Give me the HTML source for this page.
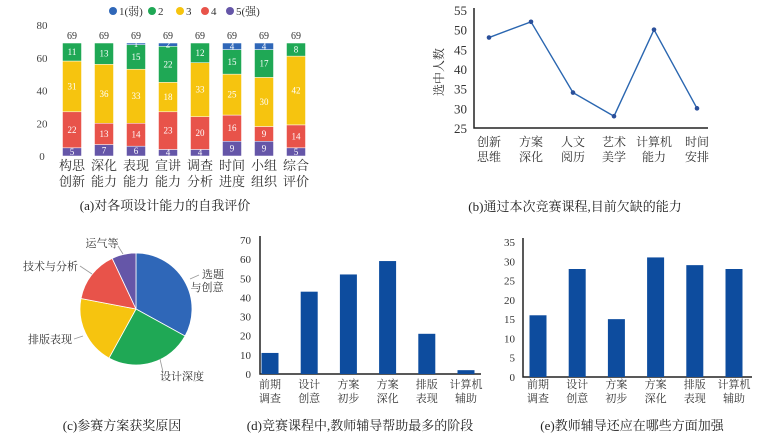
<!DOCTYPE html>
<html><head><meta charset="utf-8">
<style>
html,body{margin:0;padding:0;background:#fff;}
svg{display:block;font-family:"Liberation Serif","Noto Serif CJK SC",serif;}
</style></head>
<body>
<svg id="s" width="771" height="445" viewBox="0 0 771 445" xmlns="http://www.w3.org/2000/svg"></svg>
<script>
// ---- Chart (a) data ----
const aCats = [["构思","创新"],["深化","能力"],["表现","能力"],["宣讲","能力"],["调查","分析"],["时间","进度"],["小组","组织"],["综合","评价"]];
const aS5 = [5,7,6,4,4,9,9,5];
const aS4 = [22,13,14,23,20,16,9,14];
const aS3 = [31,36,33,18,33,25,30,42];
const aS2 = [11,13,15,22,12,15,17,8];
const aS1 = [0,0,1,2,0,4,4,0];
const aTicks = [0,20,40,60,80];
const aLegend = ["1(弱)","2","3","4","5(强)"];
// ---- Chart (b) data ----
const bCats = [["创新","思维"],["方案","深化"],["人文","阅历"],["艺术","美学"],["计算机","能力"],["时间","安排"]];
const bVals = [48,52,34,28,50,30];
const bTicks = [25,30,35,40,45,50,55];
// ---- Chart (c) data ----
const cLabels = ["选题与创意","设计深度","排版表现","技术与分析","运气等"];
const cVals = [33,25,20,15,7];
// ---- Chart (d) data ----
const dCats = [["前期","调查"],["设计","创意"],["方案","初步"],["方案","深化"],["排版","表现"],["计算机","辅助"]];
const dVals = [11,43,52,59,21,2];
const dTicks = [0,10,20,30,40,50,60,70];
// ---- Chart (e) data ----
const eCats = [["前期","调查"],["设计","创意"],["方案","初步"],["方案","深化"],["排版","表现"],["计算机","辅助"]];
const eVals = [16,28,15,31,29,28];
const eTicks = [0,5,10,15,20,25,30,35];

const svg = document.getElementById('s');
const NS = "http://www.w3.org/2000/svg";
function mk(tag, attrs, parent){const e=document.createElementNS(NS,tag);for(const k in attrs)e.setAttribute(k,attrs[k]);(parent||svg).appendChild(e);return e;}
function txt(x,y,s,size,anchor,fill,parent){const t=mk('text',{x:x,y:y,'font-size':size,'text-anchor':anchor||'middle',fill:fill||'#333'},parent);t.textContent=s;return t;}

const COLORS = ["#2f67b8","#1fa855","#f6c40f","#e8534a","#6556a8"];

// ===== Chart (a) =====
(function(){
  const g = mk('g',{});
  
  
  const y0=156, y1=25, vmax=80;
  const ys = v => y0 - v/vmax*(y0-y1);
  const left=56, band=32, bw=19;
  const xc = i => left + band*i + band/2;
  aTicks.forEach(t=>{const e=txt(42,ys(t)+4,String(t),11,'middle','#444',g);
    });
  const lx=[113,152,180,205,230];
  aLegend.forEach((l,i)=>{
    const lg=mk('g',{},g);
    
    
    mk('circle',{cx:lx[i],cy:11,r:4,fill:COLORS[i]},lg);
    txt(lx[i]+6,15,l,11,'start','#333',lg);
  });
  const series=[aS5,aS4,aS3,aS2,aS1];
  const sc=[COLORS[4],COLORS[3],COLORS[2],COLORS[1],COLORS[0]];
  aCats.forEach((c,i)=>{
    let acc=0;
    series.forEach((s,k)=>{
      const v=s[i]; if(v<=0) return;
      const r=mk('rect',{x:xc(i)-bw/2,y:ys(acc+v),width:bw,height:ys(acc)-ys(acc+v),fill:sc[k],stroke:'#fff','stroke-width':0.5},g);
      
      
      const t=txt(xc(i),ys(acc+v/2)+3,String(v),9,'middle','#fff',g);
      
      acc+=v;
    });
    const tl=txt(xc(i),ys(acc)-4,String(acc),10,'middle','#333',g);
    
    const c1=txt(xc(i),170,c[0],13,'middle','#333',g);
    
    const c2=txt(xc(i),186,c[1],13,'middle','#333',g);
    
  });
  const cap=txt(165,210,"(a)对各项设计能力的自我评价",13,'middle','#222',g);
  
})();

// ===== Chart (b) =====
(function(){
  const g=mk('g',{});
  
  
  const y0=128,y1=10,vmin=25,vmax=55;
  const ys=v=>y0-(v-vmin)/(vmax-vmin)*(y0-y1);
  const xs=[489,531,573,614,654,697];
  const ax=mk('path',{d:'M474 8 V128 H708',stroke:'#222','stroke-width':1.5,fill:'none'},g);
  
  bTicks.forEach(t=>{const e=txt(467,ys(t)+5,String(t),13,'end','#333',g);
    });
  const yt=txt(0,0,"选中人数",12,'middle','#333',g);
  yt.setAttribute('transform','translate(443,72) rotate(-90)');
  
  const pts=bVals.map((v,i)=>xs[i]+','+ys(v)).join(' ');
  const ln=mk('polyline',{points:pts,fill:'none',stroke:'#2a66b0','stroke-width':1.4},g);
  
  bVals.forEach((v,i)=>{
    const c=mk('circle',{cx:xs[i],cy:ys(v),r:2.3,fill:'#2a4f9a'},g);
    
  });
  bCats.forEach((c,i)=>{
    const a=txt(xs[i],146,c[0],12,'middle','#333',g);
    
    const b=txt(xs[i],161,c[1],12,'middle','#333',g);
    
  });
  const cap=txt(575,211,"(b)通过本次竞赛课程,目前欠缺的能力",13,'middle','#222',g);
  
})();

// ===== Chart (c) pie =====
(function(){
  const g=mk('g',{});
  
  
  const cx=136,cy=309,r=56;
  const total=cVals.reduce((a,b)=>a+b,0);
  const colors=[COLORS[0],COLORS[1],COLORS[2],COLORS[3],COLORS[4]];
  let a0=0;
  const pt=(a,rr)=>[cx+rr*Math.sin(a),cy-rr*Math.cos(a)];
  cVals.forEach((v,i)=>{
    const a1=a0+v/total*2*Math.PI;
    const p0=pt(a0,r),p1=pt(a1,r);
    const large=(a1-a0)>Math.PI?1:0;
    const p=mk('path',{d:`M${cx} ${cy} L${p0[0]} ${p0[1]} A${r} ${r} 0 ${large} 1 ${p1[0]} ${p1[1]} Z`,fill:colors[i],stroke:'#fff','stroke-width':0.8},g);
    
    
    a0=a1;
  });
  const lines=[[190,279,199,275],[160,359,163,372],[83,336,74,339],[92,274,80,266],[123,254,118,246]];
  lines.forEach(l=>{const e=mk('line',{x1:l[0],y1:l[1],x2:l[2],y2:l[3],stroke:'#999','stroke-width':0.8},g);
    });
  const lab=[[213,278,"选题",'middle'],[207,291,"与创意",'middle'],[160,380,"设计深度",'start'],[72,343,"排版表现",'end'],[78,270,"技术与分析",'end'],[102,247,"运气等",'middle']];
  lab.forEach(l=>{const e=txt(l[0],l[1],l[2],11,l[3],'#333',g);
    });
  const cap=txt(122,430,"(c)参赛方案获奖原因",13,'middle','#222',g);
  
})();

// ===== bar chart helper for (d) and (e) =====
function barChart(name,cats,vals,ticks,ax0,ax1,y0,y1,bandL,bandR,labX,capX,capText){
  const g=mk('g',{});
  
  
  const vmax=ticks[ticks.length-1];
  const ys=v=>y0-v/vmax*(y0-y1);
  const ax=mk('path',{d:`M${ax0} ${y1-4} V${y0} H${ax1}`,stroke:'#222','stroke-width':1.5,fill:'none'},g);
  
  ticks.forEach(t=>{const e=txt(labX,ys(t)+4,String(t),11,'end','#333',g);
    });
  const step=(bandR-bandL)/cats.length;
  vals.forEach((v,i)=>{
    const x=bandL+step*(i+0.5);
    const r=mk('rect',{x:x-8.5,y:ys(v),width:17,height:y0-ys(v),fill:'#0d4c9e'},g);
    
    
    const a=txt(x,388,cats[i][0],11,'middle','#333',g);
    
    const b=txt(x,402,cats[i][1],11,'middle','#333',g);
    
  });
  const cap=txt(capX,430,capText,13,'middle','#222',g);
  
}
barChart('chart-d',dCats,dVals,dTicks,260,481,374,240,250.4,485.6,251,360,"(d)竞赛课程中,教师辅导帮助最多的阶段");
barChart('chart-e',eCats,eVals,eTicks,523,752,377,242,518.4,753.6,515,632,"(e)教师辅导还应在哪些方面加强");
</script>
</body></html>
